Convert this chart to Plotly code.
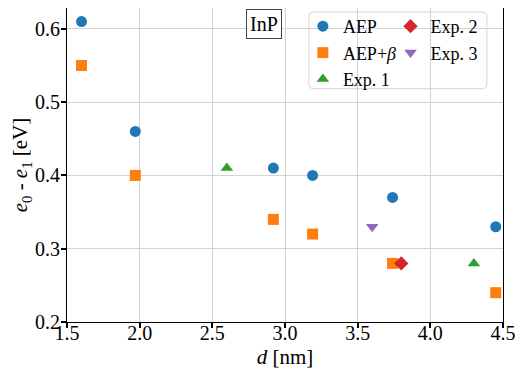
import plotly.graph_objects as go

# data
d_aep = [1.6, 1.97, 2.92, 3.19, 3.74, 4.45]
gap_aep = [0.61, 0.46, 0.41, 0.40, 0.37, 0.33]
gap_aep_beta = [0.55, 0.40, 0.34, 0.32, 0.28, 0.24]

d_exp1 = [2.6, 4.3]
gap_exp1 = [0.41, 0.28]
d_exp2 = [3.8]
gap_exp2 = [0.28]
d_exp3 = [3.6]
gap_exp3 = [0.33]

FONT = "Liberation Serif, Times New Roman, serif"

fig = go.Figure()


def add_points(x, y, name, color, symbol, size, legend):
    fig.add_trace(
        go.Scatter(
            x=x,
            y=y,
            name=name,
            mode="markers",
            marker=dict(color=color, symbol=symbol, size=size, line=dict(width=0)),
            legend=legend,
        )
    )


add_points(d_aep, gap_aep, "AEP", "#1f77b4", "circle", 11, "legend")
add_points(d_aep, gap_aep_beta, "AEP+<i>β</i>", "#ff7f0e", "square", 11, "legend")
add_points(d_exp1, gap_exp1, "Exp. 1", "#2ca02c", "triangle-up", 11, "legend")
add_points(d_exp2, gap_exp2, "Exp. 2", "#d62728", "diamond", 11, "legend2")
add_points(d_exp3, gap_exp3, "Exp. 3", "#9467bd", "triangle-down", 11, "legend2")

# rounded legend frame (paper coords)
x0, x1, y0, y1 = 0.555, 0.963, 0.743, 0.987
rx, ry = 4 / 436, 4 / 315
frame = (
    f"M {x0+rx},{y0} L {x1-rx},{y0} Q {x1},{y0} {x1},{y0+ry} "
    f"L {x1},{y1-ry} Q {x1},{y1} {x1-rx},{y1} "
    f"L {x0+rx},{y1} Q {x0},{y1} {x0},{y1-ry} "
    f"L {x0},{y0+ry} Q {x0},{y0} {x0+rx},{y0} Z"
)
fig.add_shape(
    type="path",
    path=frame,
    xref="paper",
    yref="paper",
    fillcolor="rgba(255,255,255,0.8)",
    line=dict(color="#d6d6d6", width=1),
    layer="between",
)

legend_style = dict(
    bgcolor="rgba(0,0,0,0)",
    borderwidth=0,
    font=dict(family=FONT, size=18, color="black"),
    xanchor="left",
    yanchor="top",
    tracegroupgap=0,
)

# the page puts the plot 8px in from the top-left, so margins are shifted by that
fig.update_layout(
    width=523,
    height=380,
    margin=dict(l=59, r=28, t=0, b=66),
    plot_bgcolor="white",
    paper_bgcolor="white",
    font=dict(family=FONT, size=20, color="black"),
    legend=dict(x=0.541, y=1.0, **legend_style),
    legend2=dict(x=0.742, y=1.0, **legend_style),
    annotations=[
        dict(
            text="InP",
            x=0.452,
            y=0.949,
            xref="paper",
            yref="paper",
            xanchor="center",
            yanchor="middle",
            showarrow=False,
            font=dict(family=FONT, size=20, color="black"),
            bgcolor="white",
            bordercolor="#444444",
            borderwidth=1,
            borderpad=3,
        )
    ],
)

axis_style = dict(
    showline=True,
    linecolor="black",
    linewidth=1.2,
    mirror=True,
    ticks="outside",
    ticklen=5,
    tickwidth=1.5,
    tickcolor="black",
    showgrid=True,
    gridcolor="#d3d3d3",
    gridwidth=1,
    zeroline=False,
    tickformat=".1f",
    tickfont=dict(family=FONT, size=20, color="black"),
)

fig.update_xaxes(
    range=[1.5, 4.5],
    dtick=0.5,
    tick0=1.5,
    ticklabelstandoff=-12,
    title=dict(text="<i>d</i> [nm]", standoff=6, font=dict(family=FONT, size=21)),
    **axis_style,
)
fig.update_yaxes(
    range=[0.2, 0.6285],
    dtick=0.1,
    tick0=0.2,
    ticklabelstandoff=-3,
    title=dict(
        text="<i>e</i><sub>0</sub> - <i>e</i><sub>1</sub> [eV]",
        standoff=0,
        font=dict(family=FONT, size=21),
    ),
    **axis_style,
)

fig.write_html("out.html")
